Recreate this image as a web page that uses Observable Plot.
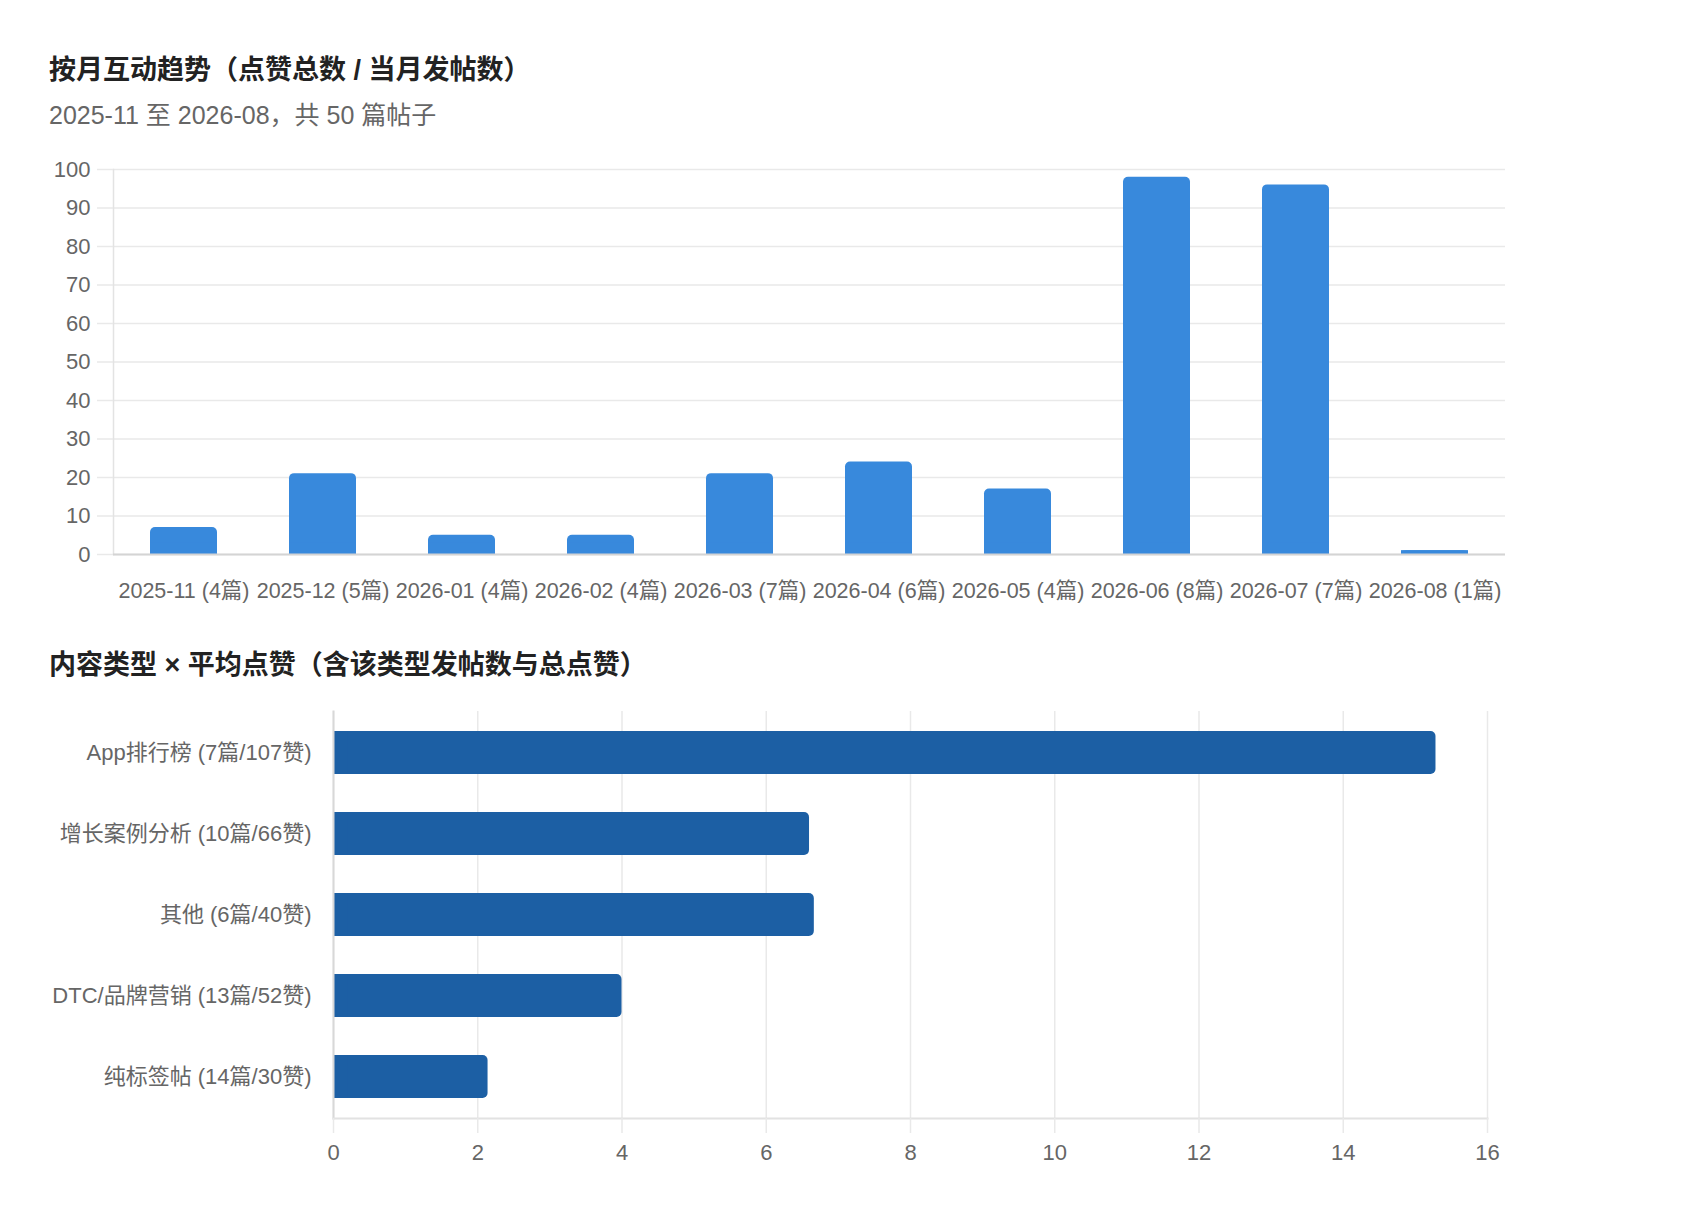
<!DOCTYPE html>
<html><head><meta charset="utf-8">
<script src="https://cdn.jsdelivr.net/npm/d3@7"></script>
<script src="https://cdn.jsdelivr.net/npm/@observablehq/plot@0.6"></script>
<style>
body{margin:0;background:#fff;font-family:"Liberation Sans","Noto Sans CJK SC",sans-serif;}
#wrap{position:relative;width:1696px;height:1220px;overflow:hidden;}
.title{position:absolute;left:49px;font-size:27px;font-weight:700;color:#222;line-height:1;white-space:nowrap;}
.sub{position:absolute;left:49px;font-size:25px;color:#666;line-height:1;white-space:nowrap;}
.chart{position:absolute;left:0;}
</style></head><body>
<div id="wrap">
<div class="title" style="top:57px">按月互动趋势（点赞总数 / 当月发帖数）</div>
<div class="sub" style="top:103px">2025-11 至 2026-08，共 50 篇帖子</div>
<div id="c1" class="chart" style="top:140px"></div>
<div class="title" style="top:652px">内容类型 × 平均点赞（含该类型发帖数与总点赞）</div>
<div id="c2" class="chart" style="top:690px"></div>
</div>
<script>
// Monthly data
const months = ["2025-11","2025-12","2026-01","2026-02","2026-03","2026-04","2026-05","2026-06","2026-07","2026-08"];
const monthPosts = [4,5,4,4,7,6,4,8,7,1];
const monthLikes = [7,21,5,5,21,24,17,98,96,1];
const yTicks = [0,10,20,30,40,50,60,70,80,90,100];

// Content type data
const types = ["App排行榜","增长案例分析","其他","DTC/品牌营销","纯标签帖"];
const typePosts = [7,10,6,13,14];
const typeLikes = [107,66,40,52,30];
const xTicks = [0,2,4,6,8,10,12,14,16];

const FONT = '"Liberation Sans","Noto Sans CJK SC",sans-serif';
const TXT = "#666";
const GRID = "#e9e9e9";

const monthData = months.map((m,i)=>({label:`${m} (${monthPosts[i]}篇)`, likes:monthLikes[i]}));
const c1 = Plot.plot({
  width:1696, height:480,
  marginLeft:113, marginRight:191, marginTop:29, marginBottom:66,
  style:{fontFamily:FONT, fontSize:"22px", color:TXT, background:"transparent", overflow:"visible"},
  x:{domain:monthData.map(d=>d.label), paddingInner:0.52, paddingOuter:0.26, axis:null},
  y:{domain:[0,100], axis:null},
  marks:[
    Plot.gridY(yTicks, {stroke:GRID, strokeOpacity:1, strokeWidth:1.5}),
    Plot.frame({anchor:"left", stroke:"#e3e3e3", strokeWidth:1.5}),
    Plot.barY(monthData, {x:"label", y:"likes", fill:"#3889dc", rx:5}),
    Plot.barY(monthData, {x:"label", y1:0, y2:d=>Math.min(d.likes,3), fill:"#3889dc"}),
    Plot.ruleY([0], {stroke:"#d4d4d4", strokeWidth:2}),
    Plot.axisY(yTicks, {tickSize:16, tickPadding:7, stroke:GRID, strokeWidth:1.5, fill:TXT, label:null}),
    Plot.axisX({tickSize:0, tickPadding:28, fill:TXT, label:null, fontSize:21.5})
  ]
});
document.getElementById("c1").append(c1);

const typeData = types.map((t,i)=>({label:`${t} (${typePosts[i]}篇/${typeLikes[i]}赞)`, avg:typeLikes[i]/typePosts[i]}));
const c2 = Plot.plot({
  width:1696, height:530,
  marginLeft:333, marginRight:209, marginTop:21, marginBottom:102,
  style:{fontFamily:FONT, fontSize:"22px", color:TXT, background:"transparent", overflow:"visible"},
  x:{domain:[0,16], axis:null},
  y:{domain:typeData.map(d=>d.label), paddingInner:0.47, paddingOuter:0.235, axis:null},
  marks:[
    Plot.gridX(xTicks, {stroke:GRID, strokeOpacity:1, strokeWidth:1.5}),
    Plot.barX(typeData, {y:"label", x:"avg", fill:"#1c5fa4", rx:5}),
    Plot.barX(typeData, {y:"label", x1:0, x2:d=>Math.min(d.avg,0.2), fill:"#1c5fa4"}),
    Plot.frame({anchor:"left", stroke:"#d8d8d8", strokeWidth:2}),
    Plot.frame({anchor:"bottom", stroke:"#e2e2e2", strokeWidth:2}),
    Plot.axisX(xTicks, {tickSize:15, tickPadding:11, stroke:GRID, strokeWidth:1.5, fill:TXT, label:null}),
    Plot.axisY({tickSize:0, tickPadding:22, fill:TXT, label:null})
  ]
});
document.getElementById("c2").append(c2);
</script>
</body></html>
